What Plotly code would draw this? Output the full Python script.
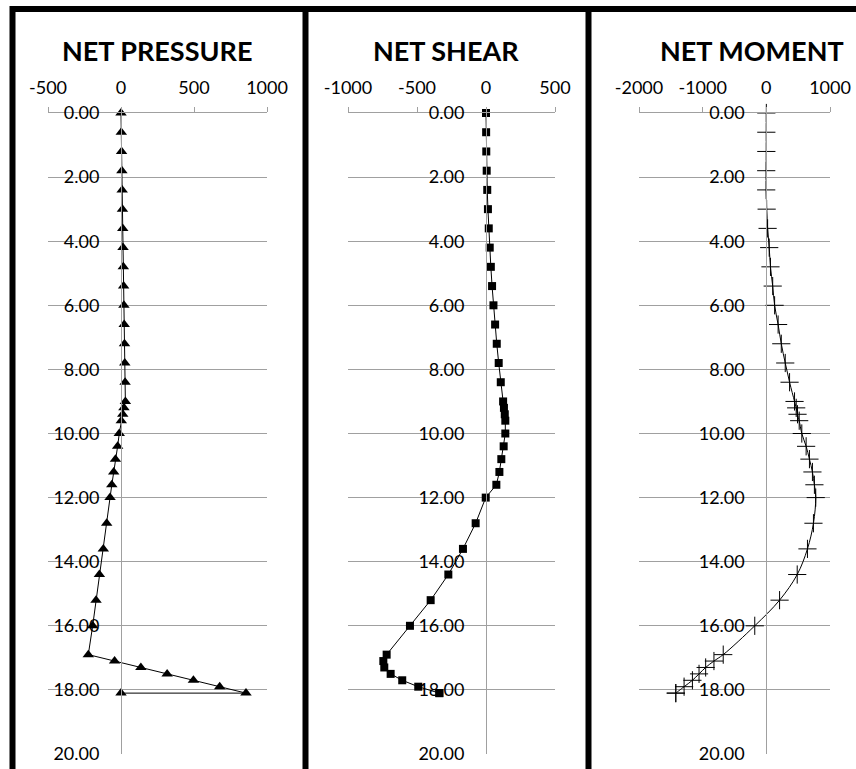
import plotly.graph_objects as go

# Depth below top of wall (m)
depth = [0.0, 0.6, 1.2, 1.8, 2.4, 3.0, 3.6, 4.2, 4.8, 5.4, 6.0, 6.6, 7.2, 7.8, 8.4,
         9.0, 9.2, 9.4, 9.6, 10.0, 10.4, 10.8, 11.2, 11.6, 12.0, 12.8, 13.6, 14.4,
         15.2, 16.0, 16.9, 17.1, 17.3, 17.5, 17.7, 17.9, 18.1, 18.1]

net_pressure = [0, 2, 4, 6, 8, 10, 12, 14, 16, 18, 20, 22, 24, 26, 28,
                30, 20, 12, 2, -12, -23, -38, -50, -63, -75, -98, -121, -148,
                -171, -194, -224, -44, 136, 316, 496, 676, 856, 0]

net_shear = [0, 1, 2, 5, 9, 14, 20, 27, 35, 44, 54, 66, 78, 92, 107,
             124, 130, 136, 140, 140, 128, 111, 97, 75, -2, -75, -167, -273,
             -401, -551, -720, -744, -737, -691, -607, -491, -338, -338]

net_moment = [0, 0, 0, -2, -2, 5, 20, 45, 65, 100, 130, 185, 235, 297, 365,
              443, 469, 490, 516, 557, 625, 677, 724, 755, 776, 740, 646, 485,
              208, -182, -677, -823, -953, -1057, -1161, -1292, -1422, -1422]

titles = ["NET PRESSURE", "NET SHEAR", "NET MOMENT"]
x_ranges = [[-500, 1000], [-1000, 500], [-2000, 1000]]
x_ticks = [[-500, 0, 500, 1000], [-1000, -500, 0, 500], [-2000, -1000, 0, 1000]]
x_tick_text = [["-500", "0", "500", "1000"],
               ["-1000", "-500", "0", "500"],
               ["-2000", "-1000", "0", "1000"]]
depth_ticks = [0, 2, 4, 6, 8, 10, 12, 14, 16, 18, 20]
depth_tick_text = ["0.00", "2.00", "4.00", "6.00", "8.00", "10.00",
                   "12.00", "14.00", "16.00", "18.00", "20.00"]

W, H = 856, 769
# plot-area pixel extents for each panel
px_left = [48, 348, 639]
px_right = [267, 555, 830]
py_top, py_bottom = 113, 754
title_cx = [157, 446, 752]

GRID = "#a0a0a0"
FONT = "Lato"

fig = go.Figure()

series = [
    (net_pressure, dict(symbol="triangle-up", size=10, color="black"), "linear"),
    (net_shear, dict(symbol="square", size=8, color="black"), "linear"),
    (net_moment, dict(symbol="cross-thin", size=13, color="black",
                      line=dict(width=1, color="black")), "spline"),
]

for i, (vals, marker, shape) in enumerate(series):
    n = "" if i == 0 else str(i + 1)
    fig.add_trace(go.Scatter(
        x=vals, y=depth, mode="lines+markers",
        xaxis="x" + n, yaxis="y" + n,
        line=dict(color="black", width=1, shape=shape, smoothing=1.0),
        marker=marker, showlegend=False, cliponaxis=False,
    ))
    lo, hi = x_ranges[i]
    x0 = px_left[i] / W
    x1 = px_right[i] / W
    zero_pos = x0 + (x1 - x0) * (0 - lo) / (hi - lo)
    fig.update_layout(**{
        "xaxis" + n: dict(
            domain=[x0, x1], range=x_ranges[i], side="top", anchor="y" + n,
            tickvals=x_ticks[i], ticktext=x_tick_text[i],
            showgrid=False, zeroline=False,
            showline=True, linecolor=GRID, linewidth=1, automargin=False,
            ticks="outside", ticklen=5, tickcolor=GRID, tickwidth=1,
            ticklabelstandoff=6,
            tickfont=dict(family=FONT, size=18, color="black"),
        ),
        "yaxis" + n: dict(
            domain=[(H - py_bottom) / H, (H - py_top) / H], range=[20, 0],
            anchor="free", position=zero_pos, automargin=False,
            tickvals=depth_ticks, ticktext=depth_tick_text,
            showgrid=True, gridcolor=GRID, gridwidth=1, zeroline=False,
            showline=True, linecolor=GRID, linewidth=1,
            ticks="", ticklabelstandoff=18,
            tickfont=dict(family=FONT, size=18, color="black"),
        ),
    })
    fig.add_annotation(
        text="<b>%s</b>" % titles[i], xref="paper", yref="paper",
        x=title_cx[i] / W, y=(H - 50) / H, xanchor="center", yanchor="middle",
        showarrow=False, font=dict(family=FONT, size=27, color="black"),
    )

# black frame lines around the panels
frame = dict(color="black", width=6)
fig.add_shape(type="line", xref="paper", yref="paper",
              x0=10 / W, x1=1, y0=(H - 9) / H, y1=(H - 9) / H, line=frame, layer="above")
for bx in [12.5, 305.5, 588.5]:
    fig.add_shape(type="line", xref="paper", yref="paper",
                  x0=bx / W, x1=bx / W, y0=0, y1=(H - 6) / H, line=frame, layer="above")

fig.update_layout(
    width=W, height=H,
    margin=dict(l=0, r=0, t=0, b=0, pad=0, autoexpand=False),
    paper_bgcolor="white", plot_bgcolor="white",
)

fig.write_html("out.html")
